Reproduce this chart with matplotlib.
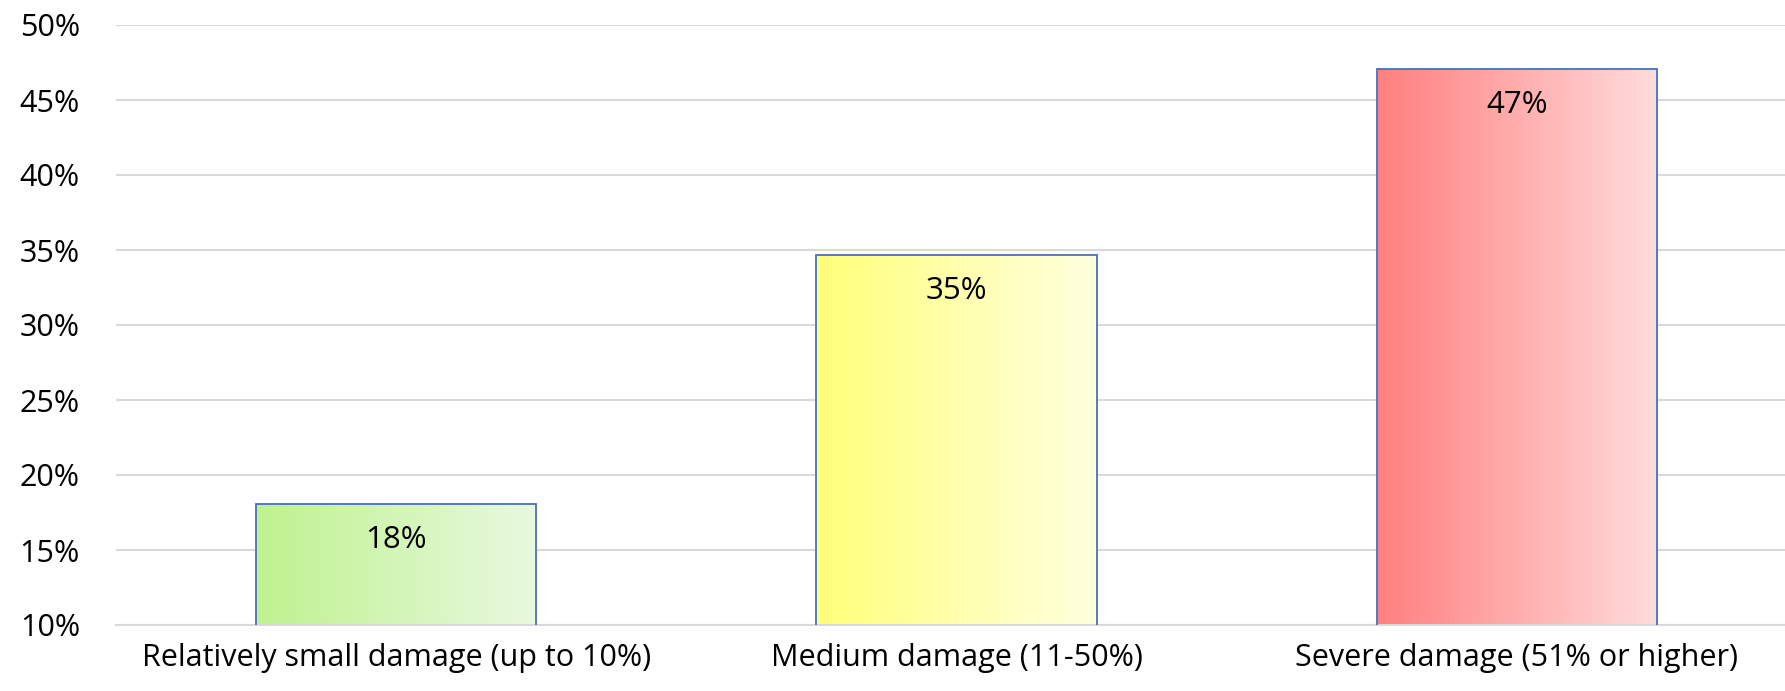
import matplotlib.pyplot as plt
import numpy as np
from matplotlib.colors import LinearSegmentedColormap

# data
categories = ['Relatively small damage (up to 10%)', 'Medium damage (11-50%)', 'Severe damage (51% or higher)']
values = [18.1, 34.7, 47.1]
labels = ['18%', '35%', '47%']
grad_left = ['#bff28f', '#ffff7a', '#ff7f7f']
grad_right = ['#e9f9e0', '#ffffe0', '#ffdcdc']

plt.rcParams['font.family'] = ['Open Sans', 'DejaVu Sans']

fig = plt.figure(figsize=(17.85, 6.91), dpi=100)
ax = fig.add_axes([116 / 1785, 1 - 625 / 691, (1797 - 116) / 1785, 600 / 691])

x = np.arange(len(categories))
bars = ax.bar(x, values, width=0.5, bottom=0, facecolor='none',
              edgecolor='#4472c4', linewidth=1.3, zorder=3)

# gradient fill in each bar
grad = np.linspace(0, 1, 256).reshape(1, -1)
for b, c0, c1 in zip(bars, grad_left, grad_right):
    cmap = LinearSegmentedColormap.from_list('g', [c0, c1])
    x0, w, h = b.get_x(), b.get_width(), b.get_height()
    im = ax.imshow(grad, cmap=cmap, extent=[x0, x0 + w, 10, h], aspect='auto', zorder=2)
    im.set_clip_path(b)

for xi, v, lab in zip(x, values, labels):
    ax.text(xi, v - 2.45, lab, ha='center', va='center', fontsize=22.5, color='black', zorder=4)

ax.set_xlim(-0.5, 2.5)
ax.set_ylim(10, 50)
ax.set_yticks(range(10, 51, 5))
ax.set_yticklabels([f'{t}%' for t in range(10, 51, 5)])
ax.set_xticks(x)
ax.set_xticklabels(categories)
ax.tick_params(axis='both', length=0, labelsize=22)
ax.tick_params(axis='y', pad=26)
ax.tick_params(axis='x', pad=13)
ax.grid(axis='y', color='#d9d9d9', linewidth=1.5, zorder=0)
ax.set_axisbelow(True)
for s in ['top', 'right', 'left']:
    ax.spines[s].set_visible(False)
ax.spines['bottom'].set_color('#d9d9d9')
ax.spines['bottom'].set_linewidth(1.5)

fig.savefig('out.png', dpi=100)
